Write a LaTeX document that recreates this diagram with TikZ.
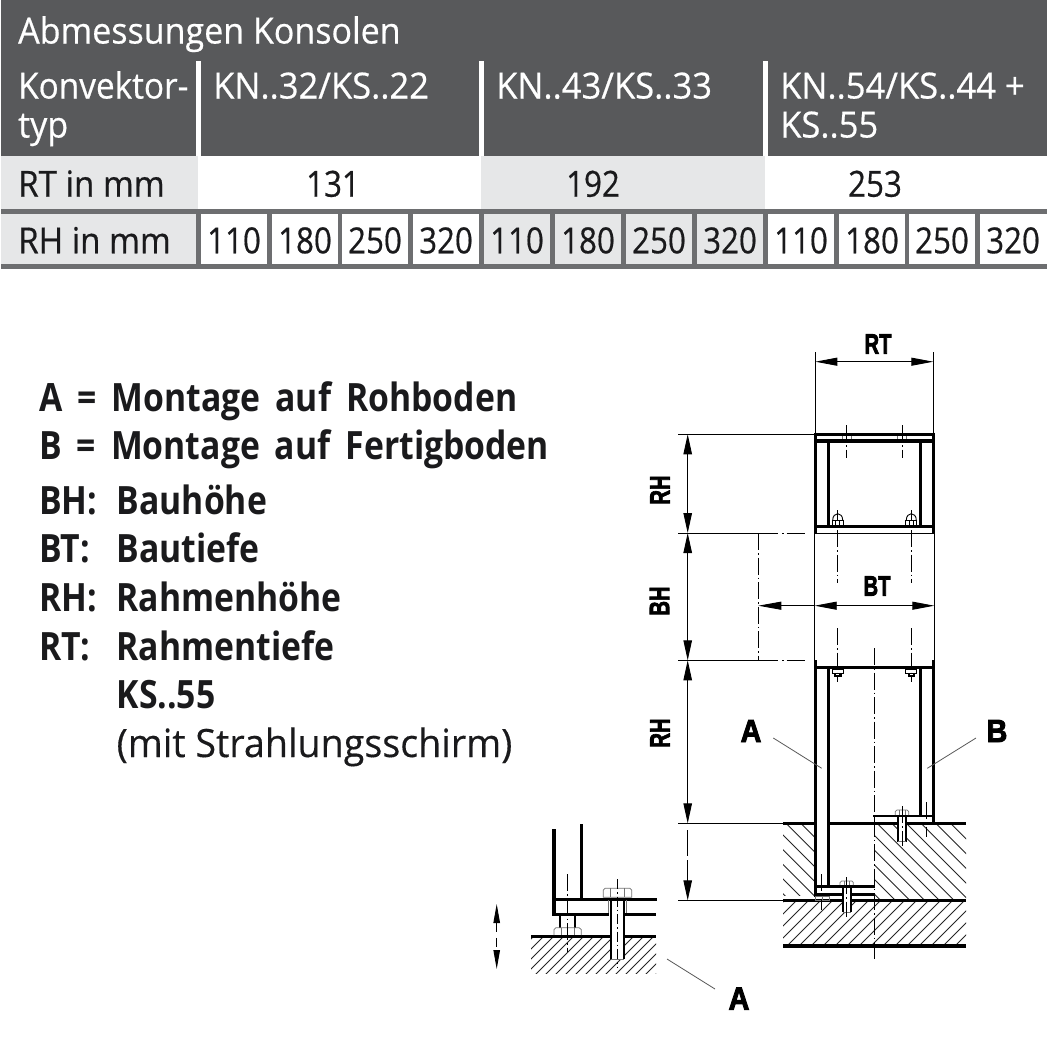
\documentclass[tikz,border=0pt]{standalone}
\usepackage{fontspec}
\setmainfont[FakeStretch=0.945,FakeBold=0.5]{Open Sans}
\newfontfamily\legbold[FakeStretch=0.865]{Open Sans}
\newfontfamily\legreg[FakeStretch=0.965,FakeBold=0.3]{Open Sans}
\newfontfamily\dimfont[BoldFeatures={FakeBold=3}]{Liberation Sans}
\usetikzlibrary{arrows.meta}
\definecolor{hdr}{HTML}{58595B}
\definecolor{band}{HTML}{6D6E70}
\definecolor{lite}{HTML}{E6E7E8}
\definecolor{ink}{HTML}{1A1A1C}
\newcommand\legfont{\legbold\fontsize{39}{39}\selectfont\bfseries\spaceskip 15pt plus 0pt\relax}
\tikzset{
 tw/.style={anchor=base west,inner sep=0,text=white,font=\fontsize{36}{36}\selectfont},
 tk/.style={anchor=base west,inner sep=0,text=ink,font=\fontsize{36}{36}\selectfont,xscale=.975},
 tc/.style={anchor=base,inner sep=0,text=ink,font=\fontsize{36}{36}\selectfont,xscale=.92},
 lg/.style={anchor=base west,inner sep=0,text=ink,font=\legfont},
 lgr/.style={anchor=base west,inner sep=0,text=ink,font=\legreg\fontsize{39}{39}\selectfont},
 dl/.style={inner sep=0,text=black,font=\dimfont\fontsize{28}{28}\selectfont\bfseries,xscale=.72},
 pl/.style={inner sep=0,text=black,font=\dimfont\fontsize{32}{32}\selectfont\bfseries,xscale=.9},
 thick1/.style={line width=3.4pt,black},
 mid1/.style={line width=2.2pt,black},
 thin1/.style={line width=.9pt,black},
 grey1/.style={line width=.7pt,black!55},
 cl/.style={line width=.8pt,black,dash pattern=on 17pt off 3pt on 1.5pt off 3pt},
 lead/.style={line width=.8pt,black!65},
 hatch/.style={line width=.9pt,black!85},
 dim/.style={line width=.9pt,black,{Triangle[length=22pt,width=8pt]}-{Triangle[length=22pt,width=8pt]}},
 dimv/.style={line width=.9pt,black,{Triangle[length=20pt,width=8.5pt]}-{Triangle[length=20pt,width=8.5pt]}},
}
\begin{document}
\begin{tikzpicture}[x=1pt,y=-1pt]
\useasboundingbox (0,0) rectangle (1047,1047);
\fill[white] (0,0) rectangle (1047,1047);
% table
\fill[hdr] (1,0) rectangle (1047,156);
\fill[lite] (1,156) rectangle (198,209);
\fill[white] (198,156) rectangle (481,209);
\fill[lite] (481,156) rectangle (765,209);
\fill[band] (1,209) rectangle (1047,268.7);
\foreach \a/\b in {196/201,479/484,763/768}{\fill[white] (\a,61) rectangle (\b,156);}
\fill[lite] (1,214) rectangle (196,264);
\foreach \a/\b in {201/266.5,272/337.5,342/407.5,412.5/479,768/833.5,839/905,909/975,980/1047}{\fill[white] (\a,214) rectangle (\b,264);}
\foreach \a/\b in {484/549.5,555/621,626/692,697/763}{\fill[lite] (\a,214) rectangle (\b,264);}
\node[tw] (title) at (18,43.5) {Abmessungen Konsolen};
\node[tw,xscale=.98] (k1) at (18,98.5) {Konvektor-};
\node[tw] (k2) at (18,137.5) {typ};
\node[tw,xscale=1.015] (h1) at (213,98.5) {KN..32/KS..22};
\node[tw,xscale=1.015] (h2) at (496,98.5) {KN..43/KS..33};
\node[tw,xscale=1.015] (h3) at (780,98.5) {KN..54/KS..44 +};
\node[tw,xscale=1.015] (h3b) at (780,137.5) {KS..55};
\node[tk] (rt) at (18,196.7) {RT in mm};
\node[tc] (v1) at (333,196.7) {131};
\node[tc] (v2) at (593,196.7) {192};
\node[tc] (v3) at (875,196.7) {253};
\node[tk] (rh) at (18,253.3) {RH in mm};
\foreach \x/\t [count=\i] in {234/110,305/180,375/250,446/320,517/110,588/180,659/250,730/320,801/110,872/180,942/250,1013/320}{
 \node[tc] (c\i) at (\x,253.3) {\t};}
% legend
\node[lg] (l1) at (39,411) {A = Montage auf Rohboden};
\node[lg] (l2) at (39,459) {B = Montage auf Fertigboden};
\node[lg] (l3) at (39,514) {BH:};\node[lg] (l3b) at (116.5,514) {Bauhöhe};
\node[lg] (l4) at (39,562) {BT:};\node[lg] (l4b) at (116.5,562) {Bautiefe};
\node[lg] (l5) at (39,611) {RH:};\node[lg] (l5b) at (116.5,611) {Rahmenhöhe};
\node[lg] (l6) at (39,660) {RT:};\node[lg] (l6b) at (116.5,660) {Rahmentiefe};
\node[lg] (l7) at (116.5,708) {KS..55};
\node[lgr] (l8) at (116.5,757) {(mit Strahlungsschirm)};
% hatching
\begin{scope}
\clip (783,825) rectangle (814,895);
\foreach \k in {-3,...,4}{\draw[hatch] (770,{770+52+14.7*\k}) -- ++(60,60);}
\end{scope}
\begin{scope}
\clip (875,825) rectangle (966,899);
\foreach \k in {-8,...,5}{\draw[hatch] (860,{860-39+14.7*\k}) -- ++(120,120);}
\end{scope}
\begin{scope}
\clip (783,902) rectangle (966,945);
\foreach \k in {0,...,21}{\draw[hatch] ({790+12*\k},895) -- ++(-60,60);}
\end{scope}
\begin{scope}
\clip (531,938) rectangle (656,973);
\foreach \k in {0,...,16}{\draw[hatch] ({540+10*\k},930) -- ++(-50,50);}
\end{scope}
% dimension coordinates
\coordinate (rtL) at (815.3,361.7);\coordinate (rtR) at (933.3,361.7);
\coordinate (btA) at (758.3,605.7);\coordinate (btL) at (814.7,605.7);\coordinate (btR) at (934.3,605.7);
\coordinate (v0) at (687.7,434.3);\coordinate (v1c) at (687.7,533);\coordinate (v2c) at (687.7,660.3);\coordinate (v3c) at (687.7,823.3);\coordinate (v4c) at (687.7,900.3);
% extension lines
\draw[thin1] (815.3,352) -- (815.3,434);
\draw[thin1] (933.3,352) -- (933.3,434);
\draw[thin1] (678,434.3) -- (815,434.3);
\draw[thin1] (678,533) -- (777.7,533);
\draw[thin1] (678,660.3) -- (777.7,660.3);
\draw[thin1,dash pattern=on 1.5pt off 3pt on 18pt off 100pt] (782,533) -- (811,533);
\draw[thin1,dash pattern=on 1.5pt off 3pt on 18pt off 100pt] (782,660.3) -- (811,660.3);
\draw[thin1] (815,533) -- (934.3,533);
\draw[thin1] (814.7,533) -- (814.7,660);
\draw[thin1] (934.3,533) -- (934.3,660);
\draw[cl] (758.3,533) -- (758.3,660);
\draw[thin1] (678,823.3) -- (783,823.3);
\draw[thin1] (678,900.3) -- (783,900.3);
% dimensions
\draw[dim] (rtL) -- (rtR);
\draw[line width=.9pt,{Triangle[length=23pt,width=8pt]}-] (btA) -- (btL);
\draw[dim] (btL) -- (btR);
\draw[dimv] (v0) -- (v1c);
\draw[dimv] (v1c) -- (v2c);
\draw[dimv] (v2c) -- (v3c);
\draw[line width=.9pt,dash pattern=on 26pt off 4pt,-{Triangle[length=20pt,width=8.5pt]}] (687.7,830) -- (v4c);
\node[dl] (dRT) at (878,344) {RT};
\node[dl] (dBT) at (877,586) {BT};
\node[rotate=90,dl] (dRH1) at (660,490) {RH};
\node[rotate=90,dl] (dBH) at (659.5,601) {BH};
\node[rotate=90,dl] (dRH2) at (660,733) {RH};
% centre lines upper
\foreach \x in {846.3,902.3}{\draw[cl] (\x,425) -- (\x,458);}
\foreach \x in {837.7,911.3}{\draw[cl] (\x,530) -- (\x,583);\draw[cl] (\x,628) -- (\x,682);
 \draw[line width=.8pt] (\x,510) -- (\x,520);}
\draw[cl] (874.3,648) -- (874.3,960);
% upper frame
\foreach \x in {842.3,897.3}{\draw[grey1] (\x,435) rectangle ++(9.4,6);}
\draw[thick1] (815.7,432.7) -- (815.7,533);
\draw[thick1] (933.3,432.7) -- (933.3,533);
\draw[thick1] (814,434.3) -- (935,434.3);
\draw[thick1] (814,441) -- (935,441);
\draw[thick1] (814,526.3) -- (935,526.3);
\draw[thick1] (828.3,441) -- (828.3,526);
\draw[thick1] (920.7,441) -- (920.7,526);
\foreach \x in {837.7,911.3}{
 \draw[thin1] (\x-5.5,525) rectangle (\x+5.5,520.3);
 \foreach \d in {-2,2}{\draw[thin1] (\x+\d,520.3) -- (\x+\d,525);}
 \draw[thin1] (\x-5,520.3) .. controls (\x-5,511.5) and (\x+5,511.5) .. (\x+5,520.3);
}
% lower frame
\draw[thick1] (815.7,660) -- (815.7,897);
\draw[thick1] (933.3,660) -- (933.3,822);
\draw[thick1] (814,667.3) -- (935,667.3);
\draw[thick1] (828.7,667) -- (828.7,885);
\draw[thick1] (920.7,667) -- (920.7,816);
\draw[mid1] (873.3,815.7) -- (935,815.7);
\foreach \x in {837.7,911.3}{
 \draw[thin1] (\x-5.5,669) rectangle (\x+5.5,673);
 \draw[mid1] (\x-2.7,673) -- (\x-2.7,676) -- (\x+2.7,676) -- (\x+2.7,673);
}
% ground lines
\draw[thick1] (783.3,823.3) -- (814,823.3);
\draw[thick1] (829.3,823.3) -- (966.3,823.3);
\draw[thick1] (783,900.3) -- (966.3,900.3);
\draw[thick1] (783,946) -- (966.3,946);
\draw[thick1] (814,886.3) -- (875.3,886.3);
\draw[thick1] (814,894.3) -- (875.3,894.3);
\draw[grey1] (815.7,896) rectangle (829,900);
\draw[grey1] (822.5,896) -- (822.5,900);
% right bolt
\draw[fill=white,draw=none] (898.3,818) rectangle (906,841.7);
\draw[mid1] (898.3,817) -- (898.3,841.7);\draw[mid1] (906,817) -- (906,841.7);
\draw[grey1] (898.3,841.7) -- (906,841.7);
\draw[grey1] (895.3,815) -- (895.3,811.5) -- (897,810) -- (907,810) -- (908.7,811.5) -- (908.7,815);
\draw[grey1] (899,810) -- (899,815);\draw[grey1] (905,810) -- (905,815);
\draw[cl] (902.3,806) -- (902.3,846);
\draw[cl] (926.7,802) -- (926.7,837);
\draw[line width=.9pt] (874,817) -- (874,823);
% left bolt
\draw[fill=white,draw=none] (843.3,888) rectangle (851,912.3);
\draw[mid1] (843.3,887) -- (843.3,912.3);\draw[mid1] (851,887) -- (851,912.3);
\draw[grey1] (843.3,912.3) -- (851,912.3);
\draw[grey1] (840,885) -- (840,882.5) -- (841.5,881) -- (852,881) -- (853.3,882.5) -- (853.3,885);
\draw[grey1] (844,881) -- (844,885);\draw[grey1] (849.5,881) -- (849.5,885);
\draw[cl] (846.7,877) -- (846.7,917);
\draw[cl] (821.7,874) -- (821.7,910);
% leaders
\coordinate (aA) at (821.7,768.3);\coordinate (aB) at (927.3,768.3);\coordinate (aD) at (667,959);
\node[pl] (pA) at (751,731) {A};
\node[pl] (pB) at (997,731) {B};
\node[pl] (pA2) at (739,998.5) {A};
\draw[lead] (773.3,738) -- (aA);
\draw[lead] (976,738) -- (aB);
\draw[lead] (aD) -- (715,989);
% detail
\draw[thick1] (554,829.3) -- (554,916);
\draw[thick1] (581.3,824) -- (581.3,899);
\draw[thick1] (554,899.3) -- (656.7,899.3);
\draw[thick1] (552.5,914.3) -- (609.3,914.3);
\draw[thick1] (624,914.3) -- (655.7,914.3);
\draw[thick1] (531,936.3) -- (655.7,936.3);
\draw[mid1] (560.3,916) -- (560.3,928);\draw[mid1] (574.7,916) -- (574.7,928);
\fill[white] (554.5,928) rectangle (581,934.7);
\draw[grey1] (554,935) -- (554,929.5) -- (556,927.7) -- (579,927.7) -- (581.3,929.5) -- (581.3,935);
\draw[grey1] (561,927.7) -- (561,935);\draw[grey1] (574,927.7) -- (574,935);
\draw[cl] (567.3,874) -- (567.3,952);
\fill[white] (610.7,900.5) rectangle (624.3,959);
\draw[mid1] (610.7,899) -- (610.7,959);\draw[mid1] (624.3,899) -- (624.3,959);
\draw[grey1] (610.7,959) -- (624.3,959);
\draw[grey1] (603.3,897.3) -- (603.3,890) -- (605,888.3) -- (630,888.3) -- (631.7,890) -- (631.7,897.3) -- cycle;
\draw[grey1] (610.5,888.3) -- (610.5,897.3);\draw[grey1] (624.5,888.3) -- (624.5,897.3);
\draw[grey1] (608.7,900) -- (608.7,913);\draw[grey1] (626.7,900) -- (626.7,913);
\draw[line width=.8pt,dash pattern=on 10pt off 3pt on 1.5pt off 3pt] (617.3,879) -- (617.3,968);
\coordinate (dTop) at (496.7,904);\coordinate (dBot) at (496.7,969);
\draw[line width=.9pt,{Triangle[length=19pt,width=6.5pt]}-{Triangle[length=19pt,width=6.5pt]},dash pattern=on 9pt off 6pt] (dTop) -- (dBot);
\end{tikzpicture}
\end{document}
